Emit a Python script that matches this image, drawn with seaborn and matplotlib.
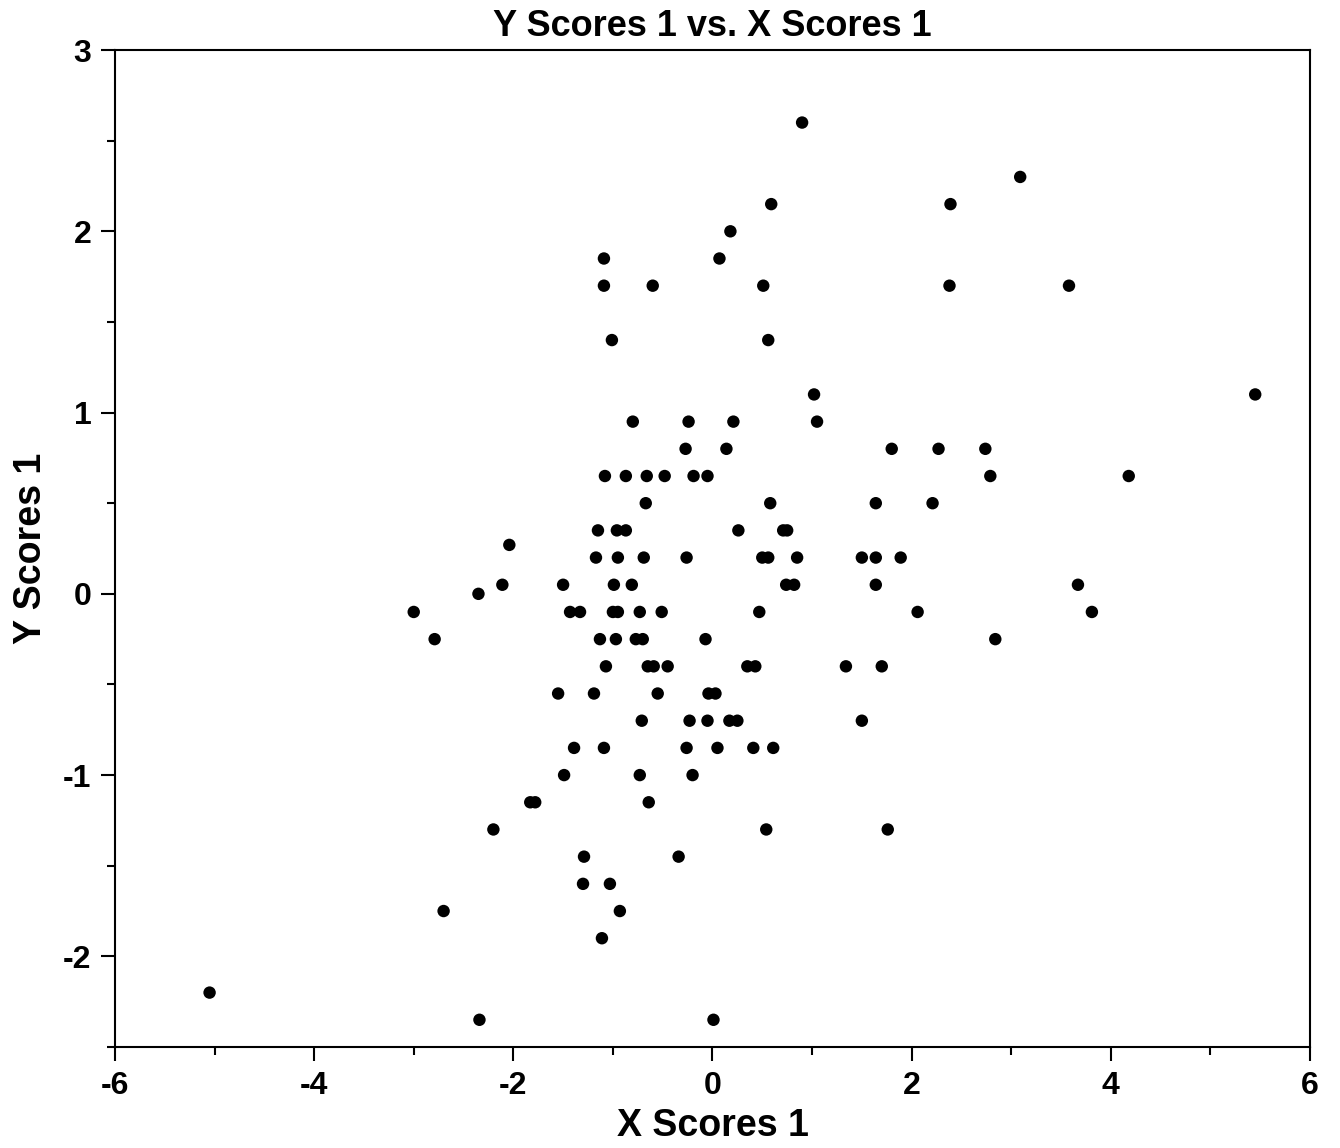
import pandas as pd
import matplotlib
matplotlib.use('Agg')
import matplotlib.pyplot as plt
from matplotlib.ticker import MultipleLocator
import seaborn as sns

# values, grouped by Y level
x_scores = [
    0.90,
    3.09,
    0.59, 2.39,
    0.18,
    -1.09, 0.07,
    -1.09, -0.60, 0.51, 2.38, 3.58,
    -1.01, 0.56,
    1.02, 5.45,
    -0.80, -0.24, 0.21, 1.05,
    -0.27, 0.14, 1.80, 2.27, 2.74,
    -1.08, -0.87, -0.66, -0.48, -0.19, -0.05, 2.79, 4.18,
    -0.67, 0.58, 1.64, 2.21,
    -1.15, -0.96, -0.87, 0.26, 0.71, 0.75,
    -2.04,
    -1.17, -0.95, -0.69, -0.26, 0.50, 0.56, 0.85, 1.50, 1.64, 1.89,
    -2.11, -1.50, -0.99, -0.81, 0.74, 0.82, 1.64, 3.67,
    -2.35,
    -3.00, -1.43, -1.33, -1.00, -0.95, -0.73, -0.51, 0.47, 2.06, 3.81,
    -2.79, -1.13, -0.97, -0.77, -0.70, -0.07, 2.84,
    -1.07, -0.65, -0.59, -0.45, 0.35, 0.43, 1.34, 1.70,
    -1.55, -1.19, -0.55, -0.04, 0.03,
    -0.71, -0.23, -0.05, 0.17, 0.25, 1.50,
    -1.39, -1.09, -0.26, 0.05, 0.41, 0.61,
    -1.49, -0.73, -0.20,
    -1.83, -1.78, -0.64,
    -2.20, 0.54, 1.76,
    -1.29, -0.34,
    -1.30, -1.03,
    -2.70, -0.93,
    -1.11,
    -5.05,
    -2.34, 0.01,
]
y_scores = [
    2.6,
    2.3,
    2.15, 2.15,
    2.0,
    1.85, 1.85,
    1.7, 1.7, 1.7, 1.7, 1.7,
    1.4, 1.4,
    1.1, 1.1,
    0.95, 0.95, 0.95, 0.95,
    0.8, 0.8, 0.8, 0.8, 0.8,
    0.65, 0.65, 0.65, 0.65, 0.65, 0.65, 0.65, 0.65,
    0.5, 0.5, 0.5, 0.5,
    0.35, 0.35, 0.35, 0.35, 0.35, 0.35,
    0.27,
    0.2, 0.2, 0.2, 0.2, 0.2, 0.2, 0.2, 0.2, 0.2, 0.2,
    0.05, 0.05, 0.05, 0.05, 0.05, 0.05, 0.05, 0.05,
    0.0,
    -0.1, -0.1, -0.1, -0.1, -0.1, -0.1, -0.1, -0.1, -0.1, -0.1,
    -0.25, -0.25, -0.25, -0.25, -0.25, -0.25, -0.25,
    -0.4, -0.4, -0.4, -0.4, -0.4, -0.4, -0.4, -0.4,
    -0.55, -0.55, -0.55, -0.55, -0.55,
    -0.7, -0.7, -0.7, -0.7, -0.7, -0.7,
    -0.85, -0.85, -0.85, -0.85, -0.85, -0.85,
    -1.0, -1.0, -1.0,
    -1.15, -1.15, -1.15,
    -1.3, -1.3, -1.3,
    -1.45, -1.45,
    -1.6, -1.6,
    -1.75, -1.75,
    -1.9,
    -2.2,
    -2.35, -2.35,
]

df = pd.DataFrame({'X Scores 1': x_scores, 'Y Scores 1': y_scores})

sns.set_style('white')
plt.rcParams['font.family'] = ['Liberation Sans', 'DejaVu Sans']
plt.rcParams['axes.unicode_minus'] = False
plt.rcParams['text.color'] = 'black'
plt.rcParams['axes.labelcolor'] = 'black'
plt.rcParams['xtick.color'] = 'black'
plt.rcParams['ytick.color'] = 'black'

fig = plt.figure(figsize=(13.4, 11.48), dpi=100)
ax = fig.add_axes([0.0858, 0.088, 0.8918, 0.8684])

sns.scatterplot(data=df, x='X Scores 1', y='Y Scores 1', color='black',
                s=80, edgecolor='none', ax=ax)

ax.set_xlim(-6, 6)
ax.set_ylim(-2.5, 3)
ax.xaxis.set_major_locator(MultipleLocator(2))
ax.xaxis.set_minor_locator(MultipleLocator(1))
ax.yaxis.set_major_locator(MultipleLocator(1))
ax.yaxis.set_minor_locator(MultipleLocator(0.5))
ax.tick_params(which='major', direction='out', length=10, width=1.5,
               labelsize=23, pad=7, colors='black',
               bottom=True, left=True, top=False, right=False)
ax.tick_params(which='minor', direction='out', length=6, width=1.5,
               colors='black', bottom=True, left=True, top=False, right=False)
for lbl in ax.get_xticklabels() + ax.get_yticklabels():
    lbl.set_fontweight('bold')
for sp in ax.spines.values():
    sp.set_color('black')
    sp.set_linewidth(1.5)

ax.set_xlabel('X Scores 1', fontsize=27, fontweight='bold', labelpad=5)
ax.set_ylabel('Y Scores 1', fontsize=27, fontweight='bold', labelpad=10)
ax.set_title('Y Scores 1 vs. X Scores 1', fontsize=26, fontweight='bold', pad=10)

fig.savefig('out.png', dpi=100)
